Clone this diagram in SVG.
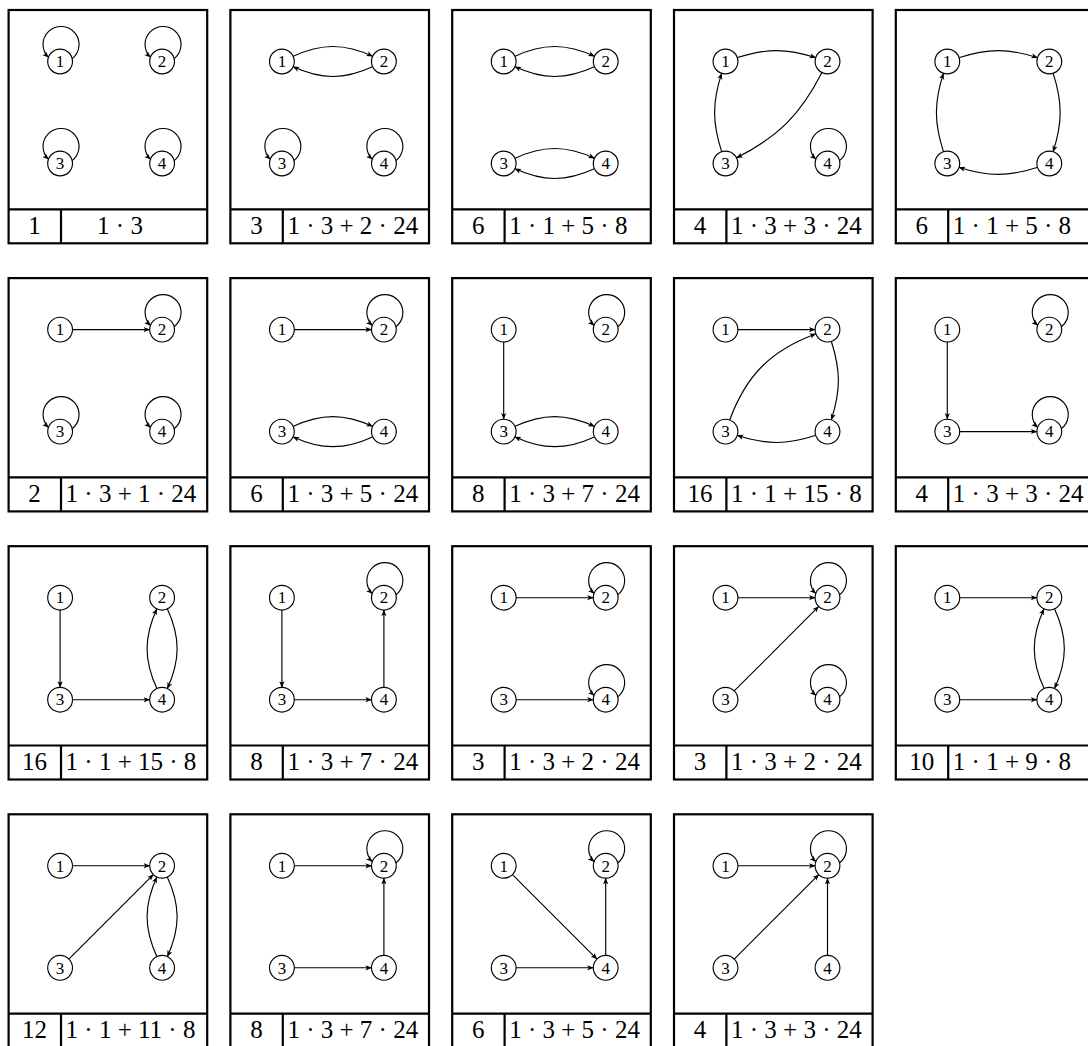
<svg xmlns="http://www.w3.org/2000/svg" width="1088" height="1046" viewBox="0 0 1088 1046">
<style>
.frame{fill:none;stroke:#000;stroke-width:2.2}
.node circle{fill:#fff;stroke:#000;stroke-width:1.15}
.node text{font-family:"Liberation Serif",serif;font-size:17px;text-anchor:middle;fill:#000}
.e{fill:none;stroke:#000;stroke-width:1.15;marker-end:url(#ah)}
.ft{font-family:"Liberation Serif",serif;font-size:25px;fill:#000}
.num{text-anchor:middle}
</style>
<defs>
<marker id="ah" viewBox="0 0 10 10" refX="10" refY="5" markerWidth="6.5" markerHeight="6.5" markerUnits="userSpaceOnUse" orient="auto"><path d="M0,1 L10,5 L0,9 L2.5,5 Z" fill="#000"/></marker>
<g id="frame"><rect class="frame" x="0" y="0" width="198.6" height="233.3"/><path class="frame" d="M0,199.3 H198.6 M52.4,199.3 V233.3"/></g>
</defs>

<!-- Panel 1 -->
<g id="p1" transform="translate(8.6,10)">
<use href="#frame"/>
<g id="p1-edges"><path class="e" d="M63.2,48.9 A18,18 0 1 0 40.15,47.6"/><path class="e" d="M165.2,48.9 A18,18 0 1 0 142.15,47.6"/><path class="e" d="M63.2,150.9 A18,18 0 1 0 40.15,149.6"/><path class="e" d="M165.2,150.9 A18,18 0 1 0 142.15,149.6"/></g>
<g id="p1-n1" class="node"><circle cx="51.5" cy="51.5" r="12.4"/><text x="51.5" y="57.3">1</text></g>
<g id="p1-n2" class="node"><circle cx="153.5" cy="51.5" r="12.4"/><text x="153.5" y="57.3">2</text></g>
<g id="p1-n3" class="node"><circle cx="51.5" cy="153.5" r="12.4"/><text x="51.5" y="159.3">3</text></g>
<g id="p1-n4" class="node"><circle cx="153.5" cy="153.5" r="12.4"/><text x="153.5" y="159.3">4</text></g>
<text class="ft num" x="26" y="223.5">1</text><text class="ft num" x="111.4" y="223.5">1 · 3</text>
</g>

<!-- Panel 2 -->
<g id="p2" transform="translate(230.4,10)">
<use href="#frame"/>
<g id="p2-edges"><path class="e" d="M62.38,46.43 C90.85,33.15 114.15,33.15 142.62,46.43"/><path class="e" d="M142.62,56.57 C114.15,69.85 90.85,69.85 62.38,56.57"/><path class="e" d="M63.2,150.9 A18,18 0 1 0 40.15,149.6"/><path class="e" d="M165.2,150.9 A18,18 0 1 0 142.15,149.6"/></g>
<g id="p2-n1" class="node"><circle cx="51.5" cy="51.5" r="12.4"/><text x="51.5" y="57.3">1</text></g>
<g id="p2-n2" class="node"><circle cx="153.5" cy="51.5" r="12.4"/><text x="153.5" y="57.3">2</text></g>
<g id="p2-n3" class="node"><circle cx="51.5" cy="153.5" r="12.4"/><text x="51.5" y="159.3">3</text></g>
<g id="p2-n4" class="node"><circle cx="153.5" cy="153.5" r="12.4"/><text x="153.5" y="159.3">4</text></g>
<text class="ft num" x="26" y="223.5">3</text><text class="ft" x="57" y="223.5">1 · 3 + 2 · 24</text>
</g>

<!-- Panel 3 -->
<g id="p3" transform="translate(452.2,10)">
<use href="#frame"/>
<g id="p3-edges"><path class="e" d="M62.38,46.43 C90.85,33.15 114.15,33.15 142.62,46.43"/><path class="e" d="M142.62,56.57 C114.15,69.85 90.85,69.85 62.38,56.57"/><path class="e" d="M62.38,148.43 C90.85,135.15 114.15,135.15 142.62,148.43"/><path class="e" d="M142.62,158.57 C114.15,171.85 90.85,171.85 62.38,158.57"/></g>
<g id="p3-n1" class="node"><circle cx="51.5" cy="51.5" r="12.4"/><text x="51.5" y="57.3">1</text></g>
<g id="p3-n2" class="node"><circle cx="153.5" cy="51.5" r="12.4"/><text x="153.5" y="57.3">2</text></g>
<g id="p3-n3" class="node"><circle cx="51.5" cy="153.5" r="12.4"/><text x="51.5" y="159.3">3</text></g>
<g id="p3-n4" class="node"><circle cx="153.5" cy="153.5" r="12.4"/><text x="153.5" y="159.3">4</text></g>
<text class="ft num" x="26" y="223.5">6</text><text class="ft" x="57" y="223.5">1 · 1 + 5 · 8</text>
</g>

<!-- Panel 4 -->
<g id="p4" transform="translate(674,10)">
<use href="#frame"/>
<g id="p4-edges"><path class="e" d="M62.91,47.79 C92.39,38.21 112.61,38.21 142.09,47.79"/><path class="e" d="M148.05,62.19 C126.47,104.55 104.55,126.47 62.19,148.05"/><path class="e" d="M47.79,142.09 C38.21,112.61 38.21,92.39 47.79,62.91"/><path class="e" d="M165.2,150.9 A18,18 0 1 0 142.15,149.6"/></g>
<g id="p4-n1" class="node"><circle cx="51.5" cy="51.5" r="12.4"/><text x="51.5" y="57.3">1</text></g>
<g id="p4-n2" class="node"><circle cx="153.5" cy="51.5" r="12.4"/><text x="153.5" y="57.3">2</text></g>
<g id="p4-n3" class="node"><circle cx="51.5" cy="153.5" r="12.4"/><text x="51.5" y="159.3">3</text></g>
<g id="p4-n4" class="node"><circle cx="153.5" cy="153.5" r="12.4"/><text x="153.5" y="159.3">4</text></g>
<text class="ft num" x="26" y="223.5">4</text><text class="ft" x="57" y="223.5">1 · 3 + 3 · 24</text>
</g>

<!-- Panel 5 -->
<g id="p5" transform="translate(895.8,10)">
<use href="#frame"/>
<g id="p5-edges"><path class="e" d="M62.91,47.79 C92.39,38.21 112.61,38.21 142.09,47.79"/><path class="e" d="M157.21,62.91 C166.79,92.39 166.79,112.61 157.21,142.09"/><path class="e" d="M142.09,157.21 C112.61,166.79 92.39,166.79 62.91,157.21"/><path class="e" d="M47.79,142.09 C38.21,112.61 38.21,92.39 47.79,62.91"/></g>
<g id="p5-n1" class="node"><circle cx="51.5" cy="51.5" r="12.4"/><text x="51.5" y="57.3">1</text></g>
<g id="p5-n2" class="node"><circle cx="153.5" cy="51.5" r="12.4"/><text x="153.5" y="57.3">2</text></g>
<g id="p5-n3" class="node"><circle cx="51.5" cy="153.5" r="12.4"/><text x="51.5" y="159.3">3</text></g>
<g id="p5-n4" class="node"><circle cx="153.5" cy="153.5" r="12.4"/><text x="153.5" y="159.3">4</text></g>
<text class="ft num" x="26" y="223.5">6</text><text class="ft" x="57" y="223.5">1 · 1 + 5 · 8</text>
</g>

<!-- Panel 6 -->
<g id="p6" transform="translate(8.6,278.1)">
<use href="#frame"/>
<g id="p6-edges"><path class="e" d="M63.5,51.5 L141.5,51.5"/><path class="e" d="M165.2,48.9 A18,18 0 1 0 142.15,47.6"/><path class="e" d="M63.2,150.9 A18,18 0 1 0 40.15,149.6"/><path class="e" d="M165.2,150.9 A18,18 0 1 0 142.15,149.6"/></g>
<g id="p6-n1" class="node"><circle cx="51.5" cy="51.5" r="12.4"/><text x="51.5" y="57.3">1</text></g>
<g id="p6-n2" class="node"><circle cx="153.5" cy="51.5" r="12.4"/><text x="153.5" y="57.3">2</text></g>
<g id="p6-n3" class="node"><circle cx="51.5" cy="153.5" r="12.4"/><text x="51.5" y="159.3">3</text></g>
<g id="p6-n4" class="node"><circle cx="153.5" cy="153.5" r="12.4"/><text x="153.5" y="159.3">4</text></g>
<text class="ft num" x="26" y="223.5">2</text><text class="ft" x="57" y="223.5">1 · 3 + 1 · 24</text>
</g>

<!-- Panel 7 -->
<g id="p7" transform="translate(230.4,278.1)">
<use href="#frame"/>
<g id="p7-edges"><path class="e" d="M63.5,51.5 L141.5,51.5"/><path class="e" d="M165.2,48.9 A18,18 0 1 0 142.15,47.6"/><path class="e" d="M62.38,148.43 C90.85,135.15 114.15,135.15 142.62,148.43"/><path class="e" d="M142.62,158.57 C114.15,171.85 90.85,171.85 62.38,158.57"/></g>
<g id="p7-n1" class="node"><circle cx="51.5" cy="51.5" r="12.4"/><text x="51.5" y="57.3">1</text></g>
<g id="p7-n2" class="node"><circle cx="153.5" cy="51.5" r="12.4"/><text x="153.5" y="57.3">2</text></g>
<g id="p7-n3" class="node"><circle cx="51.5" cy="153.5" r="12.4"/><text x="51.5" y="159.3">3</text></g>
<g id="p7-n4" class="node"><circle cx="153.5" cy="153.5" r="12.4"/><text x="153.5" y="159.3">4</text></g>
<text class="ft num" x="26" y="223.5">6</text><text class="ft" x="57" y="223.5">1 · 3 + 5 · 24</text>
</g>

<!-- Panel 8 -->
<g id="p8" transform="translate(452.2,278.1)">
<use href="#frame"/>
<g id="p8-edges"><path class="e" d="M51.5,63.5 L51.5,141.5"/><path class="e" d="M62.38,148.43 C90.85,135.15 114.15,135.15 142.62,148.43"/><path class="e" d="M142.62,158.57 C114.15,171.85 90.85,171.85 62.38,158.57"/><path class="e" d="M165.2,48.9 A18,18 0 1 0 142.15,47.6"/></g>
<g id="p8-n1" class="node"><circle cx="51.5" cy="51.5" r="12.4"/><text x="51.5" y="57.3">1</text></g>
<g id="p8-n2" class="node"><circle cx="153.5" cy="51.5" r="12.4"/><text x="153.5" y="57.3">2</text></g>
<g id="p8-n3" class="node"><circle cx="51.5" cy="153.5" r="12.4"/><text x="51.5" y="159.3">3</text></g>
<g id="p8-n4" class="node"><circle cx="153.5" cy="153.5" r="12.4"/><text x="153.5" y="159.3">4</text></g>
<text class="ft num" x="26" y="223.5">8</text><text class="ft" x="57" y="223.5">1 · 3 + 7 · 24</text>
</g>

<!-- Panel 9 -->
<g id="p9" transform="translate(674,278.1)">
<use href="#frame"/>
<g id="p9-edges"><path class="e" d="M63.5,51.5 L141.5,51.5"/><path class="e" d="M157.21,62.91 C166.79,92.39 166.79,112.61 157.21,142.09"/><path class="e" d="M142.09,157.21 C112.61,166.79 92.39,166.79 62.91,157.21"/><path class="e" d="M55.61,142.22 C72.01,97.16 97.16,72.01 142.22,55.61"/></g>
<g id="p9-n1" class="node"><circle cx="51.5" cy="51.5" r="12.4"/><text x="51.5" y="57.3">1</text></g>
<g id="p9-n2" class="node"><circle cx="153.5" cy="51.5" r="12.4"/><text x="153.5" y="57.3">2</text></g>
<g id="p9-n3" class="node"><circle cx="51.5" cy="153.5" r="12.4"/><text x="51.5" y="159.3">3</text></g>
<g id="p9-n4" class="node"><circle cx="153.5" cy="153.5" r="12.4"/><text x="153.5" y="159.3">4</text></g>
<text class="ft num" x="26" y="223.5">16</text><text class="ft" x="57" y="223.5">1 · 1 + 15 · 8</text>
</g>

<!-- Panel 10 -->
<g id="p10" transform="translate(895.8,278.1)">
<use href="#frame"/>
<g id="p10-edges"><path class="e" d="M51.5,63.5 L51.5,141.5"/><path class="e" d="M63.5,153.5 L141.5,153.5"/><path class="e" d="M165.2,48.9 A18,18 0 1 0 142.15,47.6"/><path class="e" d="M165.2,150.9 A18,18 0 1 0 142.15,149.6"/></g>
<g id="p10-n1" class="node"><circle cx="51.5" cy="51.5" r="12.4"/><text x="51.5" y="57.3">1</text></g>
<g id="p10-n2" class="node"><circle cx="153.5" cy="51.5" r="12.4"/><text x="153.5" y="57.3">2</text></g>
<g id="p10-n3" class="node"><circle cx="51.5" cy="153.5" r="12.4"/><text x="51.5" y="159.3">3</text></g>
<g id="p10-n4" class="node"><circle cx="153.5" cy="153.5" r="12.4"/><text x="153.5" y="159.3">4</text></g>
<text class="ft num" x="26" y="223.5">4</text><text class="ft" x="57" y="223.5">1 · 3 + 3 · 24</text>
</g>

<!-- Panel 11 -->
<g id="p11" transform="translate(8.6,546.2)">
<use href="#frame"/>
<g id="p11-edges"><path class="e" d="M51.5,63.5 L51.5,141.5"/><path class="e" d="M63.5,153.5 L141.5,153.5"/><path class="e" d="M158.57,62.38 C171.85,90.85 171.85,114.15 158.57,142.62"/><path class="e" d="M148.43,142.62 C135.15,114.15 135.15,90.85 148.43,62.38"/></g>
<g id="p11-n1" class="node"><circle cx="51.5" cy="51.5" r="12.4"/><text x="51.5" y="57.3">1</text></g>
<g id="p11-n2" class="node"><circle cx="153.5" cy="51.5" r="12.4"/><text x="153.5" y="57.3">2</text></g>
<g id="p11-n3" class="node"><circle cx="51.5" cy="153.5" r="12.4"/><text x="51.5" y="159.3">3</text></g>
<g id="p11-n4" class="node"><circle cx="153.5" cy="153.5" r="12.4"/><text x="153.5" y="159.3">4</text></g>
<text class="ft num" x="26" y="223.5">16</text><text class="ft" x="57" y="223.5">1 · 1 + 15 · 8</text>
</g>

<!-- Panel 12 -->
<g id="p12" transform="translate(230.4,546.2)">
<use href="#frame"/>
<g id="p12-edges"><path class="e" d="M51.5,63.5 L51.5,141.5"/><path class="e" d="M63.5,153.5 L141.5,153.5"/><path class="e" d="M153.5,141.5 L153.5,63.5"/><path class="e" d="M165.2,48.9 A18,18 0 1 0 142.15,47.6"/></g>
<g id="p12-n1" class="node"><circle cx="51.5" cy="51.5" r="12.4"/><text x="51.5" y="57.3">1</text></g>
<g id="p12-n2" class="node"><circle cx="153.5" cy="51.5" r="12.4"/><text x="153.5" y="57.3">2</text></g>
<g id="p12-n3" class="node"><circle cx="51.5" cy="153.5" r="12.4"/><text x="51.5" y="159.3">3</text></g>
<g id="p12-n4" class="node"><circle cx="153.5" cy="153.5" r="12.4"/><text x="153.5" y="159.3">4</text></g>
<text class="ft num" x="26" y="223.5">8</text><text class="ft" x="57" y="223.5">1 · 3 + 7 · 24</text>
</g>

<!-- Panel 13 -->
<g id="p13" transform="translate(452.2,546.2)">
<use href="#frame"/>
<g id="p13-edges"><path class="e" d="M63.5,51.5 L141.5,51.5"/><path class="e" d="M63.5,153.5 L141.5,153.5"/><path class="e" d="M165.2,48.9 A18,18 0 1 0 142.15,47.6"/><path class="e" d="M165.2,150.9 A18,18 0 1 0 142.15,149.6"/></g>
<g id="p13-n1" class="node"><circle cx="51.5" cy="51.5" r="12.4"/><text x="51.5" y="57.3">1</text></g>
<g id="p13-n2" class="node"><circle cx="153.5" cy="51.5" r="12.4"/><text x="153.5" y="57.3">2</text></g>
<g id="p13-n3" class="node"><circle cx="51.5" cy="153.5" r="12.4"/><text x="51.5" y="159.3">3</text></g>
<g id="p13-n4" class="node"><circle cx="153.5" cy="153.5" r="12.4"/><text x="153.5" y="159.3">4</text></g>
<text class="ft num" x="26" y="223.5">3</text><text class="ft" x="57" y="223.5">1 · 3 + 2 · 24</text>
</g>

<!-- Panel 14 -->
<g id="p14" transform="translate(674,546.2)">
<use href="#frame"/>
<g id="p14-edges"><path class="e" d="M63.5,51.5 L141.5,51.5"/><path class="e" d="M59.99,145.01 L145.01,59.99"/><path class="e" d="M165.2,48.9 A18,18 0 1 0 142.15,47.6"/><path class="e" d="M165.2,150.9 A18,18 0 1 0 142.15,149.6"/></g>
<g id="p14-n1" class="node"><circle cx="51.5" cy="51.5" r="12.4"/><text x="51.5" y="57.3">1</text></g>
<g id="p14-n2" class="node"><circle cx="153.5" cy="51.5" r="12.4"/><text x="153.5" y="57.3">2</text></g>
<g id="p14-n3" class="node"><circle cx="51.5" cy="153.5" r="12.4"/><text x="51.5" y="159.3">3</text></g>
<g id="p14-n4" class="node"><circle cx="153.5" cy="153.5" r="12.4"/><text x="153.5" y="159.3">4</text></g>
<text class="ft num" x="26" y="223.5">3</text><text class="ft" x="57" y="223.5">1 · 3 + 2 · 24</text>
</g>

<!-- Panel 15 -->
<g id="p15" transform="translate(895.8,546.2)">
<use href="#frame"/>
<g id="p15-edges"><path class="e" d="M63.5,51.5 L141.5,51.5"/><path class="e" d="M63.5,153.5 L141.5,153.5"/><path class="e" d="M158.57,62.38 C171.85,90.85 171.85,114.15 158.57,142.62"/><path class="e" d="M148.43,142.62 C135.15,114.15 135.15,90.85 148.43,62.38"/></g>
<g id="p15-n1" class="node"><circle cx="51.5" cy="51.5" r="12.4"/><text x="51.5" y="57.3">1</text></g>
<g id="p15-n2" class="node"><circle cx="153.5" cy="51.5" r="12.4"/><text x="153.5" y="57.3">2</text></g>
<g id="p15-n3" class="node"><circle cx="51.5" cy="153.5" r="12.4"/><text x="51.5" y="159.3">3</text></g>
<g id="p15-n4" class="node"><circle cx="153.5" cy="153.5" r="12.4"/><text x="153.5" y="159.3">4</text></g>
<text class="ft num" x="26" y="223.5">10</text><text class="ft" x="57" y="223.5">1 · 1 + 9 · 8</text>
</g>

<!-- Panel 16 -->
<g id="p16" transform="translate(8.6,814.3)">
<use href="#frame"/>
<g id="p16-edges"><path class="e" d="M63.5,51.5 L141.5,51.5"/><path class="e" d="M59.99,145.01 L145.01,59.99"/><path class="e" d="M158.57,62.38 C171.85,90.85 171.85,114.15 158.57,142.62"/><path class="e" d="M148.43,142.62 C135.15,114.15 135.15,90.85 148.43,62.38"/></g>
<g id="p16-n1" class="node"><circle cx="51.5" cy="51.5" r="12.4"/><text x="51.5" y="57.3">1</text></g>
<g id="p16-n2" class="node"><circle cx="153.5" cy="51.5" r="12.4"/><text x="153.5" y="57.3">2</text></g>
<g id="p16-n3" class="node"><circle cx="51.5" cy="153.5" r="12.4"/><text x="51.5" y="159.3">3</text></g>
<g id="p16-n4" class="node"><circle cx="153.5" cy="153.5" r="12.4"/><text x="153.5" y="159.3">4</text></g>
<text class="ft num" x="26" y="223.5">12</text><text class="ft" x="57" y="223.5">1 · 1 + 11 · 8</text>
</g>

<!-- Panel 17 -->
<g id="p17" transform="translate(230.4,814.3)">
<use href="#frame"/>
<g id="p17-edges"><path class="e" d="M63.5,51.5 L141.5,51.5"/><path class="e" d="M63.5,153.5 L141.5,153.5"/><path class="e" d="M153.5,141.5 L153.5,63.5"/><path class="e" d="M165.2,48.9 A18,18 0 1 0 142.15,47.6"/></g>
<g id="p17-n1" class="node"><circle cx="51.5" cy="51.5" r="12.4"/><text x="51.5" y="57.3">1</text></g>
<g id="p17-n2" class="node"><circle cx="153.5" cy="51.5" r="12.4"/><text x="153.5" y="57.3">2</text></g>
<g id="p17-n3" class="node"><circle cx="51.5" cy="153.5" r="12.4"/><text x="51.5" y="159.3">3</text></g>
<g id="p17-n4" class="node"><circle cx="153.5" cy="153.5" r="12.4"/><text x="153.5" y="159.3">4</text></g>
<text class="ft num" x="26" y="223.5">8</text><text class="ft" x="57" y="223.5">1 · 3 + 7 · 24</text>
</g>

<!-- Panel 18 -->
<g id="p18" transform="translate(452.2,814.3)">
<use href="#frame"/>
<g id="p18-edges"><path class="e" d="M59.99,59.99 L145.01,145.01"/><path class="e" d="M63.5,153.5 L141.5,153.5"/><path class="e" d="M153.5,141.5 L153.5,63.5"/><path class="e" d="M165.2,48.9 A18,18 0 1 0 142.15,47.6"/></g>
<g id="p18-n1" class="node"><circle cx="51.5" cy="51.5" r="12.4"/><text x="51.5" y="57.3">1</text></g>
<g id="p18-n2" class="node"><circle cx="153.5" cy="51.5" r="12.4"/><text x="153.5" y="57.3">2</text></g>
<g id="p18-n3" class="node"><circle cx="51.5" cy="153.5" r="12.4"/><text x="51.5" y="159.3">3</text></g>
<g id="p18-n4" class="node"><circle cx="153.5" cy="153.5" r="12.4"/><text x="153.5" y="159.3">4</text></g>
<text class="ft num" x="26" y="223.5">6</text><text class="ft" x="57" y="223.5">1 · 3 + 5 · 24</text>
</g>

<!-- Panel 19 -->
<g id="p19" transform="translate(674,814.3)">
<use href="#frame"/>
<g id="p19-edges"><path class="e" d="M63.5,51.5 L141.5,51.5"/><path class="e" d="M59.99,145.01 L145.01,59.99"/><path class="e" d="M153.5,141.5 L153.5,63.5"/><path class="e" d="M165.2,48.9 A18,18 0 1 0 142.15,47.6"/></g>
<g id="p19-n1" class="node"><circle cx="51.5" cy="51.5" r="12.4"/><text x="51.5" y="57.3">1</text></g>
<g id="p19-n2" class="node"><circle cx="153.5" cy="51.5" r="12.4"/><text x="153.5" y="57.3">2</text></g>
<g id="p19-n3" class="node"><circle cx="51.5" cy="153.5" r="12.4"/><text x="51.5" y="159.3">3</text></g>
<g id="p19-n4" class="node"><circle cx="153.5" cy="153.5" r="12.4"/><text x="153.5" y="159.3">4</text></g>
<text class="ft num" x="26" y="223.5">4</text><text class="ft" x="57" y="223.5">1 · 3 + 3 · 24</text>
</g>
</svg>
